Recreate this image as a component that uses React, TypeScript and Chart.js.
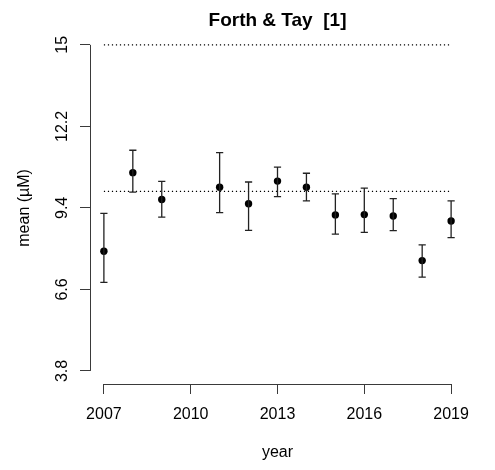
import React, { useEffect, useRef } from "react";
import { Chart, registerables } from "chart.js";

Chart.register(...registerables);

// Survey years with a sample (no 2010 survey)
const years = [2007, 2008, 2009, 2011, 2012, 2013, 2014, 2015, 2016, 2017, 2018, 2019];
// Annual mean concentration (µM) with upper / lower interval limits
const means = [7.91, 10.61, 9.69, 10.11, 9.54, 10.32, 10.11, 9.16, 9.17, 9.12, 7.59, 8.95];
const upper = [9.21, 11.38, 10.31, 11.3, 10.29, 10.8, 10.59, 9.88, 10.08, 9.72, 8.13, 9.64];
const lower = [6.84, 9.94, 9.08, 9.24, 8.63, 9.79, 9.64, 8.5, 8.56, 8.62, 7.02, 8.38];

// Reference levels drawn as dotted lines across the survey period
const refLevels = [15, 9.97];

// Axis ticks
const xTicks = [2007, 2010, 2013, 2016, 2019];
const yTicks = [3.8, 6.6, 9.4, 12.2, 15];
const yTickLabels = ["3.8", "6.6", "9.4", "12.2", "15"];

const FONT = "'Liberation Sans', Arial, Helvetica, sans-serif";
const AXIS_COLOR = "#3a3a3a";
const BAR_COLOR = "#222222";

// Error bars: vertical whisker plus end caps for each year
const errorBarPlugin = {
  id: "errorBars",
  afterDatasetsDraw(chart: any) {
    const { ctx, scales } = chart;
    const xs = scales.x;
    const ys = scales.y;
    ctx.save();
    ctx.strokeStyle = BAR_COLOR;
    ctx.lineWidth = 1.3;
    const cap = 3.6;
    years.forEach((yr, i) => {
      const px = xs.getPixelForValue(yr);
      const top = ys.getPixelForValue(upper[i]);
      const bot = ys.getPixelForValue(lower[i]);
      ctx.beginPath();
      ctx.moveTo(px, top);
      ctx.lineTo(px, bot);
      ctx.moveTo(px - cap, top);
      ctx.lineTo(px + cap, top);
      ctx.moveTo(px - cap, bot);
      ctx.lineTo(px + cap, bot);
      ctx.stroke();
    });
    ctx.restore();
  },
};

// Axis lines that run only from the first to the last tick
const axisLinePlugin = {
  id: "axisLines",
  afterDraw(chart: any) {
    const { ctx, scales, chartArea } = chart;
    const xs = scales.x;
    const ys = scales.y;
    ctx.save();
    ctx.strokeStyle = AXIS_COLOR;
    ctx.lineWidth = 1;
    const yLine = Math.round(chartArea.bottom) + 0.5;
    ctx.beginPath();
    ctx.moveTo(xs.getPixelForValue(xTicks[0]), yLine);
    ctx.lineTo(xs.getPixelForValue(xTicks[xTicks.length - 1]), yLine);
    ctx.stroke();
    const xLine = Math.round(chartArea.left) + 0.5;
    ctx.beginPath();
    ctx.moveTo(xLine, ys.getPixelForValue(yTicks[0]));
    ctx.lineTo(xLine, ys.getPixelForValue(yTicks[yTicks.length - 1]));
    ctx.stroke();
    ctx.restore();
  },
};

export default function App() {
  const canvasRef = useRef<HTMLCanvasElement | null>(null);

  useEffect(() => {
    const canvas = canvasRef.current;
    if (!canvas) return;

    const refDatasets = refLevels.map((lvl) => ({
      type: "line" as const,
      data: [
        { x: xTicks[0], y: lvl },
        { x: xTicks[xTicks.length - 1], y: lvl },
      ],
      borderColor: "#000000",
      borderWidth: 1.2,
      borderDash: [1.2, 2.8],
      pointRadius: 0,
      fill: false,
    }));

    const chart = new Chart(canvas, {
      type: "scatter",
      data: {
        datasets: [
          ...refDatasets,
          {
            type: "scatter" as const,
            data: years.map((x, i) => ({ x, y: means[i] })),
            pointRadius: 3.7,
            pointBackgroundColor: "#000000",
            pointBorderWidth: 0,
            pointBorderColor: "#000000",
          },
        ] as any,
      },
      options: {
        responsive: false,
        animation: false,
        devicePixelRatio: 1,
        layout: { padding: { left: 0, right: 30, top: 0, bottom: 0 } },
        plugins: {
          legend: { display: false },
          tooltip: { enabled: false },
          title: {
            display: true,
            text: "Forth & Tay  [1]",
            color: "#000000",
            fullSize: false,
            font: { family: FONT, size: 19, weight: "bold" },
            padding: { top: 9, bottom: 0 },
          },
        },
        scales: {
          x: {
            type: "linear",
            position: "bottom",
            min: 2006.52,
            max: 2019.48,
            afterBuildTicks: (s: any) => {
              s.ticks = xTicks.map((v) => ({ value: v }));
            },
            afterFit: (s: any) => {
              s.height = 86;
            },
            grid: {
              drawOnChartArea: false,
              drawTicks: true,
              tickLength: 10,
              color: AXIS_COLOR,
              lineWidth: 1,
            },
            border: { display: false },
            ticks: {
              autoSkip: false,
              maxRotation: 0,
              padding: 11,
              color: "#000000",
              font: { family: FONT, size: 16 },
              callback: (v: any) => String(v),
            },
            title: {
              display: true,
              text: "year",
              color: "#000000",
              font: { family: FONT, size: 16 },
              padding: { top: 0, bottom: 8 },
            },
          },
          y: {
            type: "linear",
            position: "left",
            min: 3.352,
            max: 15.448,
            afterBuildTicks: (s: any) => {
              s.ticks = yTicks.map((v) => ({ value: v }));
            },
            afterFit: (s: any) => {
              s.width = 90;
            },
            grid: {
              drawOnChartArea: false,
              drawTicks: true,
              tickLength: 10,
              color: AXIS_COLOR,
              lineWidth: 1,
            },
            border: { display: false },
            ticks: {
              autoSkip: false,
              minRotation: 90,
              maxRotation: 90,
              crossAlign: "center",
              padding: 1.5,
              color: "#000000",
              font: { family: FONT, size: 16 },
              callback: (_v: any, i: number) => yTickLabels[i],
            },
            title: {
              display: true,
              text: "mean (\u00b5M)",
              color: "#000000",
              font: { family: FONT, size: 16 },
              padding: { top: 15, bottom: 0 },
            },
          },
        },
      } as any,
      plugins: [errorBarPlugin, axisLinePlugin],
    });

    return () => chart.destroy();
  }, []);

  return (
    <div style={{ position: "fixed", left: 0, top: 0, width: 495, height: 470, background: "#ffffff" }}>
      <canvas ref={canvasRef} width={495} height={470} />
    </div>
  );
}
